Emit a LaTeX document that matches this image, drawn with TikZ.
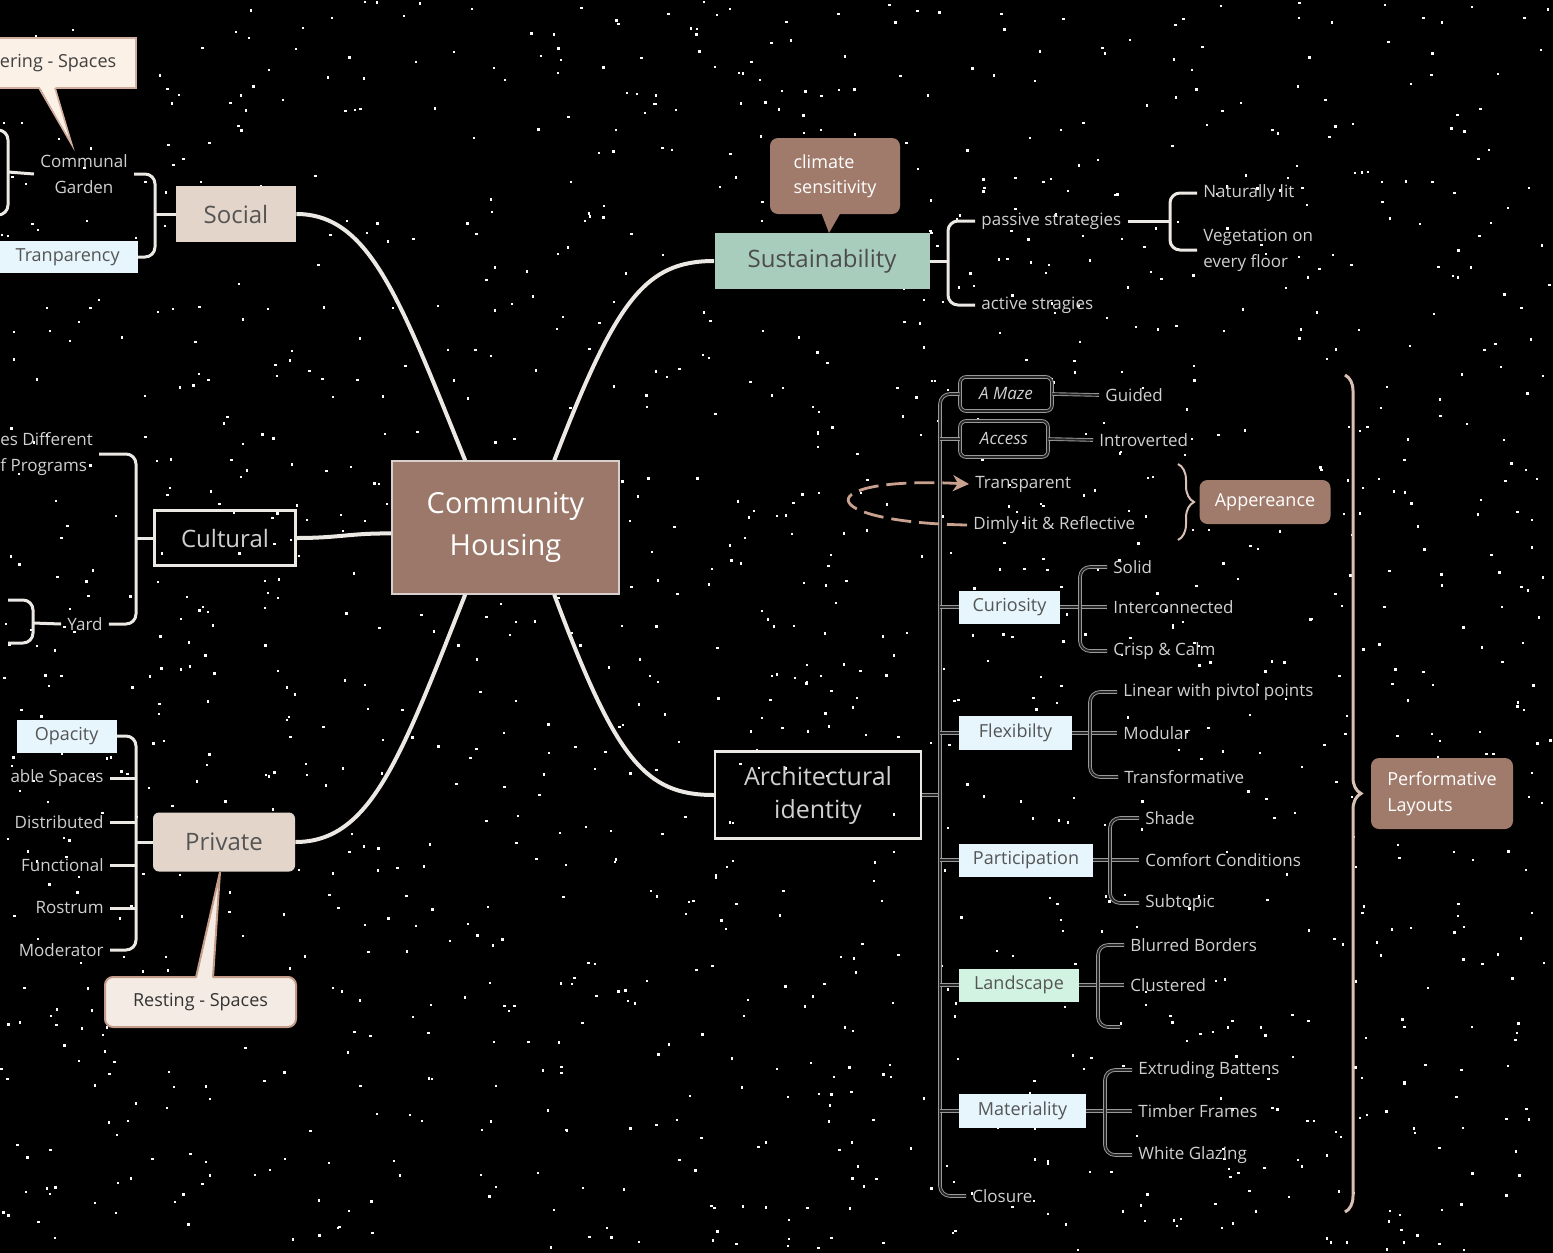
\documentclass[tikz,border=0pt]{standalone}
\usepackage{fontspec}
\setmainfont{Open Sans}
\usetikzlibrary{arrows.meta,decorations.pathreplacing,calc}
\definecolor{brownbox}{HTML}{A07B6B}
\definecolor{centerbox}{HTML}{9B7869}
\definecolor{boxedge}{HTML}{D8D0CC}
\definecolor{beige}{HTML}{E3D5CA}
\definecolor{mint}{HTML}{A9CDBD}
\definecolor{lblue}{HTML}{E6F6FC}
\definecolor{lgreen}{HTML}{D2F3E2}
\definecolor{cream}{HTML}{FBF1E7}
\definecolor{callbd}{HTML}{D2AE9E}
\definecolor{restc}{HTML}{F4ECE4}
\definecolor{restbd}{HTML}{C49A88}
\definecolor{linew}{HTML}{ECE8E4}
\definecolor{otext}{HTML}{D0D0D0}
\definecolor{dtext}{HTML}{555555}
\definecolor{dkedge}{HTML}{9A9A9A}
\definecolor{dkcore}{HTML}{262626}
\definecolor{dashc}{HTML}{C9A18F}
\definecolor{bracec}{HTML}{D8C0B4}
\begin{document}
\begin{tikzpicture}[x=0.5pt,y=-0.5pt,
  lt/.style={draw=linew, line width=1.5pt, rounded corners=5pt},
  mainln/.style={draw=linew, line width=2pt},
  dk/.style={draw=dkedge, line width=0.45pt, double=dkcore, double distance=0.9pt, rounded corners=5pt},
  otx/.style={text=otext, font=\fontsize{8.5}{13}\selectfont, inner sep=3pt},
  filledbox/.style={rectangle, inner sep=0pt, text=dtext, font=\fontsize{9}{12}\selectfont},
  brownnode/.style={rectangle, rounded corners=4pt, fill=brownbox, text=white, font=\fontsize{9}{13}\selectfont, inner sep=0pt},
  dkbox/.style={rectangle, draw=dkedge, line width=0.45pt, double=dkcore, double distance=0.9pt, rounded corners=3pt, fill=black, inner sep=0pt, text=otext, font=\fontsize{8.5}{12}\selectfont},
]
\useasboundingbox (0,0) rectangle (1553,1253);
\clip (0,0) rectangle (1553,1253);
\fill[black] (0,0) rectangle (1553,1253);
\pgfmathsetseed{271828}
\foreach \k in {1,...,1400}{\pgfmathsetmacro{\rx}{rnd*1553}\pgfmathsetmacro{\ry}{rnd*1253}\fill[white] (\rx,\ry) rectangle ++(2.4,2.4);}

% ---------- centre ----------
\node[rectangle, inner sep=0pt, fill=centerbox, draw=boxedge, line width=0.6pt, minimum width=113.5pt, minimum height=66.5pt, text=white, align=center, font=\fontsize{14.5}{21}\selectfont] (ch) at (505.5,527.5) {Community\\Housing};

% ---------- social ----------
\node[filledbox, fill=beige, minimum width=60pt, minimum height=28pt, font=\fontsize{12}{14}\selectfont] (social) at (236,214) {Social};
\node[otx, align=center] (cg) at (84,174) {Communal\\Garden};
\node[filledbox, fill=lblue, anchor=east, minimum height=16pt, inner xsep=9pt] (tran) at (138,257) {Tranparency};
\node[rectangle, anchor=east, fill=cream, draw=callbd, line width=0.8pt, minimum height=25pt, inner xsep=10pt, inner ysep=0pt, text=black!75, font=\fontsize{9}{12}\selectfont] (gath) at (137,63) {ering - Spaces};
\fill[cream] (39,86) -- (72,145) -- (55,86) -- cycle;
\draw[callbd, line width=0.8pt] (39,88) -- (72,145) -- (55,88);

% ---------- cultural ----------
\node[rectangle, draw=linew, line width=1.1pt, minimum width=70.5pt, minimum height=27.5pt, inner sep=0pt, text=otext, font=\fontsize{12}{14}\selectfont] (cultural) at (225,538) {Cultural};
\node[otx, anchor=west, align=left] (ed) at (-6,454) {es Different\\f Programs};
\node[otx] (yard) at (85,624) {Yard};

% ---------- private ----------
\node[filledbox, fill=beige, rounded corners=3pt, minimum width=71pt, minimum height=29.5pt, font=\fontsize{12}{14}\selectfont] (private) at (224,842) {Private};
\node[filledbox, fill=lblue, anchor=east, minimum width=50pt, minimum height=16.5pt] (opacity) at (117,736) {Opacity};
\node[otx, anchor=east] (ables) at (110,778) {able Spaces};
\node[otx, anchor=east] (distributed) at (110,822) {Distributed};
\node[otx, anchor=east] (functional) at (110,865) {Functional};
\node[otx, anchor=east] (rostrum) at (110,908) {Rostrum};
\node[otx, anchor=east] (moderator) at (110,950) {Moderator};
\node[filledbox, fill=restc, draw=restbd, line width=1pt, rounded corners=4pt, minimum width=95.5pt, minimum height=25pt, text=black!80] (resting) at (200.5,1002) {Resting - Spaces};
\fill[restc] (196,979) -- (220,872) -- (213,979) -- cycle;
\draw[restbd, line width=1pt] (196,977.5) -- (220,872) -- (213,977.5);

% ---------- sustainability ----------
\node[filledbox, fill=mint, minimum width=107.5pt, minimum height=28pt, font=\fontsize{12}{14}\selectfont, text=black!70] (sust) at (822,261) {Sustainability};
\node[brownnode, minimum width=65pt, minimum height=38pt, align=left, font=\fontsize{9}{12.5}\selectfont] (clim) at (835,176) {climate\\sensitivity};
\fill[brownbox] (821,212) -- (829,233) -- (841,212) -- cycle;
\node[otx, anchor=west] (passive) at (975,221) {passive strategies};
\node[otx, anchor=west] (active) at (975,305) {active stragies};
\node[otx, anchor=west] (natlit) at (1197,193) {Naturally lit};
\node[otx, anchor=west, align=left] (veg) at (1197,250) {Vegetation on\\every floor};

% ---------- architectural identity ----------
\node[rectangle, draw=linew, line width=1.1pt, minimum width=103pt, minimum height=43.5pt, inner sep=0pt, text=otext, align=center, font=\fontsize{12.5}{16.5}\selectfont] (arch) at (818,795) {Architectural\\identity};
\node[dkbox, minimum width=46pt, minimum height=17pt] (amaze) at (1006,394) {\itshape A Maze};
\node[otx, anchor=west] (guided) at (1099,395) {Guided};
\node[dkbox, minimum width=44pt, minimum height=18pt] (access) at (1004,439) {\itshape Access};
\node[otx, anchor=west] (introverted) at (1093,440) {Introverted};
\node[otx, anchor=west] (transparent) at (969,484) {Transparent};
\node[otx, anchor=west] (dimly) at (967,525) {Dimly lit \& Reflective};
\node[brownnode, minimum width=65.5pt, minimum height=22pt] (appear) at (1265,502) {Appereance};
\node[filledbox, fill=lblue, minimum width=50.5pt, minimum height=16.5pt] (curiosity) at (1009.5,607) {Curiosity};
\node[otx, anchor=west] (solid) at (1107,567) {Solid};
\node[otx, anchor=west] (interc) at (1107,607) {Interconnected};
\node[otx, anchor=west] (crisp) at (1107,651) {Crisp \& Calm};
\node[filledbox, fill=lblue, minimum width=56.5pt, minimum height=17pt] (flex) at (1015.5,733) {Flexibilty};
\node[otx, anchor=west] (linear) at (1117,692) {Linear with pivtol points};
\node[otx, anchor=west] (modular) at (1117,733) {Modular};
\node[otx, anchor=west] (transf) at (1118,777) {Transformative};
\node[filledbox, fill=lblue, minimum width=67pt, minimum height=16.5pt] (part) at (1026,860) {Participation};
\node[otx, anchor=west] (shade) at (1139,818) {Shade};
\node[otx, anchor=west] (comfort) at (1139,860) {Comfort Conditions};
\node[otx, anchor=west] (subtopic) at (1139,903) {Subtopic};
\node[filledbox, fill=lgreen, minimum width=60pt, minimum height=16.5pt] (land) at (1019,985) {Landscape};
\node[otx, anchor=west] (blurred) at (1124,945) {Blurred Borders};
\node[otx, anchor=west] (clustered) at (1124,985) {Clustered};
\node[filledbox, fill=lblue, minimum width=63.5pt, minimum height=17pt] (mat) at (1022.5,1111) {Materiality};
\node[otx, anchor=west] (extr) at (1132,1070) {Extruding Battens};
\node[otx, anchor=west] (timber) at (1132,1111) {Timber Frames};
\node[otx, anchor=west] (whiteg) at (1132,1155) {White Glazing};
\node[otx, anchor=west] (closure) at (966,1196) {Closure};
\node[brownnode, minimum width=71pt, minimum height=35.5pt, align=left, font=\fontsize{9}{13}\selectfont] (perf) at (1442,793.5) {Performative\\Layouts};

% ---------- main connectors ----------
\draw[mainln] (ch.121) .. controls (400,300) and (370,214) .. (social.east);
\draw[mainln] (ch.54.5) .. controls (616,300) and (645,261) .. (sust.west);
\draw[mainln] (ch.-177) .. controls (350,533) and (340,538) .. (cultural.east);
\draw[mainln] (ch.-121) .. controls (400,760) and (370,842) .. (private.east);
\draw[mainln] (ch.-54.5) .. controls (616,760) and (645,795) .. (arch.west);

% ---------- left brackets ----------
\coordinate (sbx) at (155,214);
\draw[lt] (social.west) -- (sbx);
\draw[lt] (cg.east) -| (sbx) |- (tran.east);
\coordinate (gb) at (8,172);
\coordinate (ga) at (-10,130);
\coordinate (gc) at (-10,215);
\draw[lt] (cg.west) -- (gb);
\draw[lt] (ga) -| (gb) |- (gc);

\coordinate (cbx) at (136,538);
\draw[lt] (cultural.west) -- (cbx);
\draw[lt] (ed.east) -| (cbx) |- (yard.east);
\coordinate (yb) at (33,623);
\coordinate (ya) at (8,600);
\coordinate (yc) at (8,643);
\draw[lt] (yard.west) -- (yb);
\draw[lt] (ya) -| (yb) |- (yc);

\coordinate (pbx) at (136,842);
\draw[lt] (private.west) -- (pbx);
\draw[lt] (opacity.east) -| (pbx) |- (moderator.east);
\draw[lt] (ables.east) -- (ables.east -| pbx);
\draw[lt] (distributed.east) -- (distributed.east -| pbx);
\draw[lt] (functional.east) -- (functional.east -| pbx);
\draw[lt] (rostrum.east) -- (rostrum.east -| pbx);

% ---------- sustainability brackets ----------
\coordinate (sb) at (948,261);
\draw[lt] (sust.east) -- (sb);
\draw[lt] (passive.west) -| (sb) |- (active.west);
\coordinate (psb) at (1170,221);
\draw[lt] (passive.east) -- (psb);
\draw[lt] (natlit.west) -| (psb) |- (veg.west);

% ---------- architectural trunk ----------
\coordinate (trunk) at (940,795);
\draw[dk] (arch.east) -- (trunk);
\draw[dk] (amaze.west) -| (trunk) |- (closure.west);
\draw[dk] (amaze.east) -- (guided.west);
\draw[dk] (trunk |- access.west) -- (access.west);
\draw[dk] (access.east) -- (introverted.west);
\draw[dk] (trunk |- curiosity.west) -- (curiosity.west);
\draw[dk] (trunk |- flex.west) -- (flex.west);
\draw[dk] (trunk |- part.west) -- (part.west);
\draw[dk] (trunk |- land.west) -- (land.west);
\draw[dk] (trunk |- mat.west) -- (mat.west);

\coordinate (cub) at (1080,607);
\draw[dk] (curiosity.east) -- (interc.west);
\draw[dk] (solid.west) -| (cub) |- (crisp.west);
\coordinate (flb) at (1090,733);
\draw[dk] (flex.east) -- (modular.west);
\draw[dk] (linear.west) -| (flb) |- (transf.west);
\coordinate (pab) at (1110,860);
\draw[dk] (part.east) -- (comfort.west);
\draw[dk] (shade.west) -| (pab) |- (subtopic.west);
\coordinate (lab) at (1098,985);
\coordinate (labend) at (1120,1027);
\draw[dk] (land.east) -- (clustered.west);
\draw[dk] (blurred.west) -| (lab) |- (labend);
\coordinate (mab) at (1105,1111);
\draw[dk] (mat.east) -- (timber.west);
\draw[dk] (extr.west) -| (mab) |- (whiteg.west);

% ---------- dashed loop arrow ----------
\draw[dashc, line width=1.4pt, dash pattern=on 10pt off 4pt, -{Stealth[length=8pt,width=8pt,inset=2.5pt]}] (dimly.west) .. controls (810,522) and (810,476) .. (transparent.west);

% ---------- braces ----------
\draw[bracec, line width=1pt, decorate, decoration={brace, amplitude=8pt}] (1178,464) -- (1178,540);
\draw[bracec, line width=1.5pt, decorate, decoration={brace, amplitude=8pt}] (1345,375) -- (1345,1212);
\end{tikzpicture}
\end{document}
